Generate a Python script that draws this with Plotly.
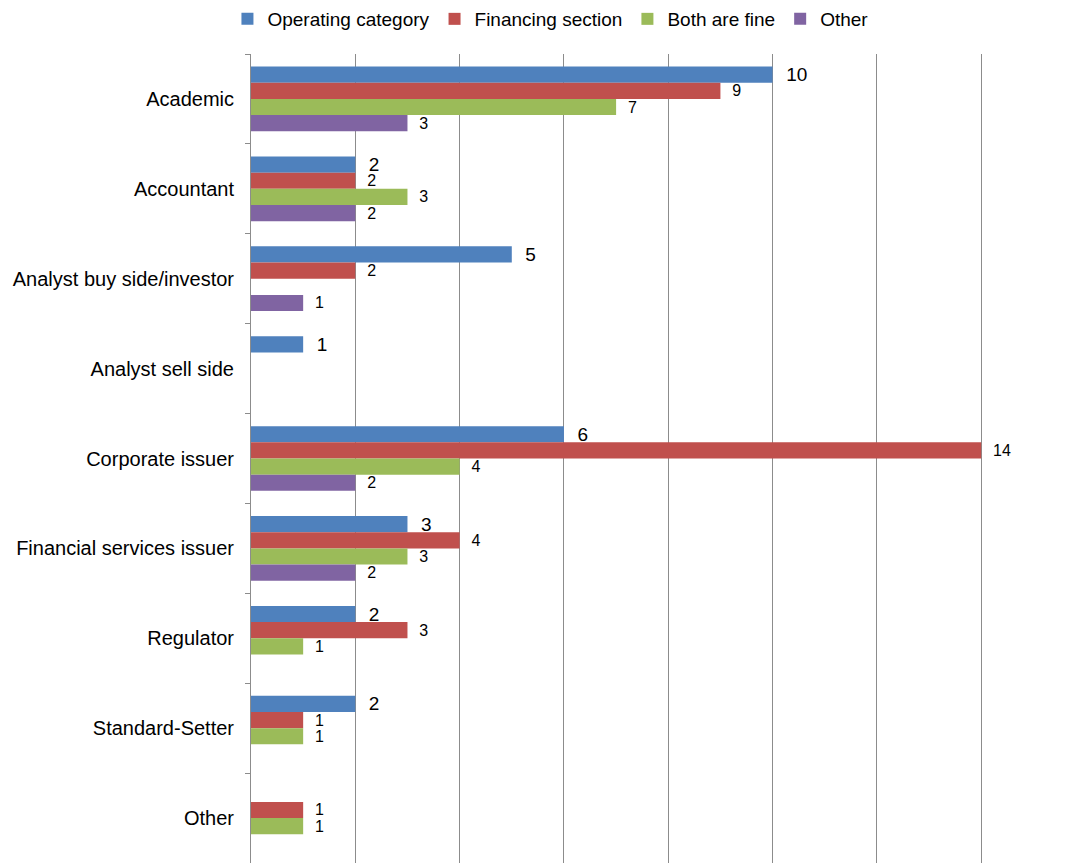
import plotly.graph_objects as go

# Respondent groups, listed top to bottom
categories = [
    "Academic",
    "Accountant",
    "Analyst buy side/investor",
    "Analyst sell side",
    "Corporate issuer",
    "Financial services issuer",
    "Regulator",
    "Standard-Setter",
    "Other",
]

# Counts per preference (None = no responses)
operating_category = [10, 2, 5, 1, 6, 3, 2, 2, None]
financing_section = [9, 2, 2, None, 14, 4, 3, 1, 1]
both_are_fine = [7, 3, None, None, 4, 3, 1, 1, 1]
other = [3, 2, 1, None, 2, 2, None, None, None]

series = [
    ("Operating category", operating_category, "#4F81BD", 19),
    ("Financing section", financing_section, "#C0504D", 16),
    ("Both are fine", both_are_fine, "#9BBB59", 16),
    ("Other", other, "#8064A2", 16),
]

FONT = "Liberation Sans, Arial, sans-serif"
GRID = "#8C8C8C"

fig = go.Figure()
for name, values, color, label_size in series:
    fig.add_trace(
        go.Bar(
            name=name,
            y=categories,
            x=values,
            orientation="h",
            marker=dict(color=color, line=dict(width=0)),
            text=values,
            texttemplate="\u00a0\u00a0%{x}",
            textposition="outside",
            constraintext="none",
            cliponaxis=False,
            textfont=dict(family=FONT, size=label_size, color="#000000"),
        )
    )

fig.update_layout(
    width=1073,
    height=863,
    barmode="group",
    bargap=0.28,
    bargroupgap=0,
    plot_bgcolor="white",
    paper_bgcolor="white",
    margin=dict(l=251, r=0, t=54, b=0),
    font=dict(family=FONT, size=20, color="#000000"),
    legend=dict(
        orientation="h",
        xref="container",
        yref="container",
        x=0.513,
        xanchor="center",
        y=1.0,
        yanchor="top",
        font=dict(family=FONT, size=19, color="#000000"),
        itemwidth=30,
        traceorder="normal",
    ),
)

fig.update_xaxes(
    range=[0, 15.76],
    dtick=2,
    tick0=0,
    showgrid=True,
    gridcolor=GRID,
    gridwidth=1,
    zeroline=False,
    showline=False,
    showticklabels=False,
    ticks="",
)

fig.update_yaxes(
    autorange="reversed",
    type="category",
    showline=True,
    linecolor=GRID,
    linewidth=1,
    ticks="outside",
    tickson="boundaries",
    ticklen=5,
    tickcolor=GRID,
    ticklabelstandoff=12,
    showgrid=False,
    tickfont=dict(family=FONT, size=20, color="#000000"),
)

fig.write_html("out.html")
